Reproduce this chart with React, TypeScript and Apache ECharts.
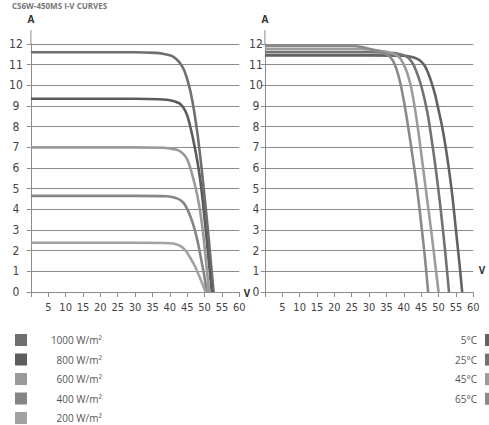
import React, { useEffect, useRef } from "react";
import * as echarts from "echarts";

// ---- Data ----
const irrLabels = ["1000 W/m²", "800 W/m²", "600 W/m²", "400 W/m²", "200 W/m²"];
const irrColors = ["#6f6f6f", "#5c5c5c", "#9a9a9a", "#858585", "#a2a2a2"];
const irr1000V = [0, 30, 36, 38, 40, 41, 42, 43, 44, 45, 46, 47, 48, 49, 50, 51, 52, 52.6];
const irr1000I = [11.6, 11.6, 11.57, 11.53, 11.45, 11.38, 11.25, 11.06, 10.78, 10.3, 9.65, 8.75, 7.6, 6.2, 4.6, 2.95, 1.1, 0];
const irr800V = [0, 30, 37, 39, 41, 42, 43, 44, 45, 46, 47, 48, 49, 50, 51, 52.1];
const irr800I = [9.35, 9.35, 9.33, 9.3, 9.24, 9.18, 9.1, 8.9, 8.55, 7.92, 7.15, 6.25, 5.1, 3.55, 1.85, 0];
const irr600V = [0, 30, 38, 40, 42, 43, 44, 45, 46, 47, 48, 49, 50, 50.7, 51.3];
const irr600I = [7.0, 7.0, 6.98, 6.95, 6.88, 6.8, 6.66, 6.42, 5.95, 5.32, 4.6, 3.6, 2.2, 1.0, 0];
const irr400V = [0, 30, 39, 41, 42, 43, 44, 45, 46, 47, 48, 49, 50, 50.6];
const irr400I = [4.65, 4.65, 4.63, 4.58, 4.53, 4.45, 4.3, 4.02, 3.62, 3.12, 2.45, 1.6, 0.7, 0];
const irr200V = [0, 30, 40, 42, 43, 44, 45, 46, 47, 48, 49, 50.3];
const irr200I = [2.38, 2.38, 2.36, 2.3, 2.23, 2.1, 1.9, 1.62, 1.32, 0.96, 0.55, 0];

const tempLabels = ["5°C", "25°C", "45°C", "65°C"];
const tempColors = ["#626262", "#727272", "#9c9c9c", "#8a8a8a"];
const t5V = [0, 30, 40, 42, 44, 45, 46, 47, 48, 49, 50, 51, 52, 53, 54, 55, 56, 56.8];
const t5I = [11.45, 11.45, 11.43, 11.38, 11.27, 11.15, 10.95, 10.6, 10.12, 9.55, 8.8, 8.02, 7.05, 5.92, 4.6, 3.0, 1.4, 0];
const t25V = [0, 30, 37, 39, 40, 41, 42, 43, 44, 45, 46, 47, 48, 49, 50, 51, 52, 53];
const t25I = [11.6, 11.6, 11.56, 11.5, 11.45, 11.37, 11.2, 10.92, 10.5, 9.98, 9.3, 8.48, 7.38, 6.2, 4.88, 3.4, 1.8, 0];
const t45V = [0, 28, 32, 35, 37, 38, 39, 40, 41, 42, 43, 44, 45, 46, 47, 48, 49, 50];
const t45I = [11.75, 11.75, 11.7, 11.62, 11.52, 11.45, 11.3, 11.0, 10.58, 9.98, 9.08, 7.98, 6.72, 5.4, 4.1, 2.8, 1.4, 0];
const t65V = [0, 25, 28, 31, 34, 35, 36, 37, 38, 39, 40, 41, 42, 43, 44, 45, 46, 47];
const t65I = [11.9, 11.9, 11.85, 11.72, 11.58, 11.5, 11.38, 11.15, 10.72, 10.1, 9.25, 8.25, 7.15, 6.0, 4.75, 3.3, 1.8, 0];

const xMin = 0;
const xMax = 60;
const xInterval = 5;
const yMin = 0;
const yMax = 12;
const yInterval = 1;

const titleText = "CS6W-450MS I-V CURVES";

const irrSeries = [
  [irr1000V, irr1000I],
  [irr800V, irr800I],
  [irr600V, irr600I],
  [irr400V, irr400I],
  [irr200V, irr200I],
];
const tempSeries = [
  [t5V, t5I],
  [t25V, t25I],
  [t45V, t45I],
  [t65V, t65I],
];

const pair = (v: number[], i: number[]) => v.map((x, k) => [x, i[k]]);

const FONT = '"Liberation Sans Narrow", "DejaVu Sans Condensed", sans-serif';
const LFONT = '"Open Sans", sans-serif';
const GRID_COLOR = "#8c8c8c";

const L = { left: 30.9, top: 44, width: 208.4, height: 248 };
const R = { left: 264.9, top: 44, width: 208.4, height: 248 };

function makeX(gridIndex: number) {
  return {
    type: "value" as const,
    gridIndex,
    min: xMin,
    max: xMax,
    interval: xInterval,
    axisLine: { show: true, lineStyle: { color: GRID_COLOR, width: 1 } },
    axisTick: { show: true, length: 5, lineStyle: { color: GRID_COLOR } },
    axisLabel: {
      color: "#444",
      fontFamily: FONT,
      fontSize: 11,
      margin: 10,
      formatter: (v: number) => (v === 0 ? "" : String(v)),
    },
    splitLine: { show: false },
  };
}

function makeY(gridIndex: number, margin: number) {
  return {
    type: "value" as const,
    gridIndex,
    min: yMin,
    max: yMax,
    interval: yInterval,
    axisLine: { show: true, lineStyle: { color: GRID_COLOR, width: 1 } },
    axisTick: { show: true, length: 4, lineStyle: { color: GRID_COLOR } },
    axisLabel: {
      color: "#444",
      fontFamily: FONT,
      fontSize: 12,
      align: "center" as const,
      margin,
    },
    splitLine: { show: true, lineStyle: { color: GRID_COLOR, width: 1 } },
  };
}

export default function App() {
  const ref = useRef<HTMLDivElement>(null);
  useEffect(() => {
    if (!ref.current) return;
    const chart = echarts.init(ref.current, undefined, { renderer: "svg" });

    const series: any[] = [];
    irrSeries.forEach(([v, i], k) => {
      series.push({
        type: "line",
        name: irrLabels[k],
        xAxisIndex: 0,
        yAxisIndex: 0,
        data: pair(v, i),
        showSymbol: false,
        smooth: 0.3,
        lineStyle: { color: irrColors[k], width: 2.6 },
        itemStyle: { color: irrColors[k] },
        z: 3,
      });
    });
    tempSeries.forEach(([v, i], k) => {
      series.push({
        type: "line",
        name: tempLabels[k],
        xAxisIndex: 1,
        yAxisIndex: 1,
        data: pair(v, i),
        showSymbol: false,
        smooth: 0.3,
        lineStyle: { color: tempColors[k], width: 2.6 },
        itemStyle: { color: tempColors[k] },
        z: 3,
      });
    });

    const graphic: any[] = [];
    // title (mostly cropped in the reference) kept small and fully visible
    graphic.push({
      type: "text",
      x: 12,
      y: 5,
      style: {
        text: titleText,
        fill: "#777",
        font: 'bold 8px "Open Sans", sans-serif',
        textVerticalAlign: "middle",
      },
    });
    // axis line extensions above the top grid line
    [L.left, R.left].forEach((x) => {
      graphic.push({
        type: "line",
        shape: { x1: x, y1: 30, x2: x, y2: L.top },
        style: { stroke: GRID_COLOR, lineWidth: 1 },
      });
    });
    // axis unit labels
    const unit = (text: string, x: number, y: number) => ({
      type: "text",
      x,
      y,
      style: {
        text,
        fill: "#333",
        font: `bold 10px ${LFONT}`,
        textAlign: "center",
        textVerticalAlign: "middle",
      },
    });
    graphic.push(unit("A", 31, 19));
    graphic.push(unit("A", 265, 19));
    graphic.push(unit("V", 247, 293));
    graphic.push(unit("V", 482, 270));

    // legends
    irrLabels.forEach((lab, k) => {
      const cy = 340 + k * 19.5;
      graphic.push({
        type: "rect",
        shape: { x: 15, y: cy - 6, width: 12, height: 12 },
        style: { fill: irrColors[k] },
      });
      graphic.push({
        type: "text",
        x: 102,
        y: cy,
        style: {
          text: lab,
          fill: "#555",
          font: `10px ${LFONT}`,
          textAlign: "right",
          textVerticalAlign: "middle",
        },
      });
    });
    tempLabels.forEach((lab, k) => {
      const cy = 340 + k * 19.6;
      graphic.push({
        type: "rect",
        shape: { x: 485, y: cy - 6, width: 12, height: 12 },
        style: { fill: tempColors[k] },
      });
      graphic.push({
        type: "text",
        x: 477,
        y: cy,
        style: {
          text: lab,
          fill: "#555",
          font: `10px ${LFONT}`,
          textAlign: "right",
          textVerticalAlign: "middle",
        },
      });
    });

    chart.setOption({
      animation: false,
      backgroundColor: "#ffffff",
      grid: [
        { ...L, outerBoundsMode: "none", containLabel: false },
        { ...R, outerBoundsMode: "none", containLabel: false },
      ],
      xAxis: [makeX(0), makeX(1)],
      yAxis: [makeY(0, 15), makeY(1, 9)],
      series,
      graphic,
    });
    return () => chart.dispose();
  }, []);

  return (
    <div
      ref={ref}
      style={{ position: "fixed", left: 0, top: 0, width: 489, height: 425, background: "#fff" }}
    />
  );
}
